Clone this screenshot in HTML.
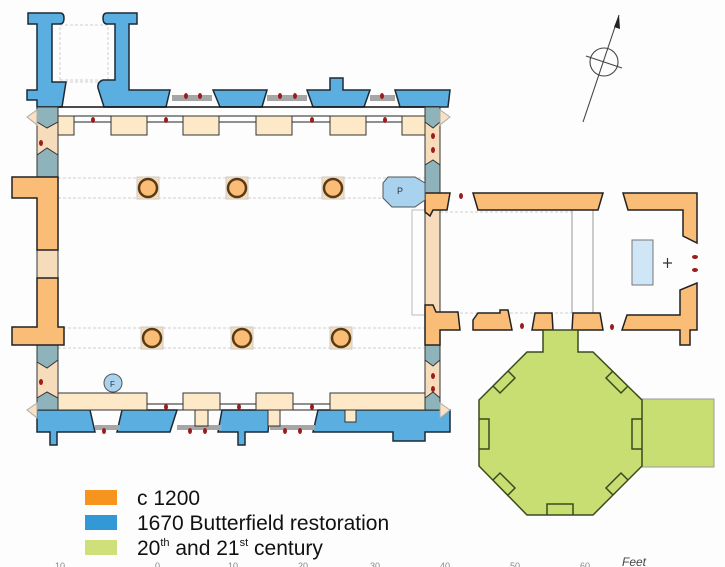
<!DOCTYPE html>
<html><head><meta charset="utf-8"><style>
html,body{margin:0;padding:0;background:#fff;}
svg{display:block;}
text{font-family:"Liberation Sans",sans-serif;}
</style></head><body>
<svg width="725" height="567" viewBox="0 0 725 567" xmlns="http://www.w3.org/2000/svg">
<rect width="725" height="567" fill="#fdfdfd"/>
<g stroke="#cfcfcf" stroke-width="1" fill="none" stroke-dasharray="3,2">
<rect x="60" y="25" width="48" height="57"/>
<line x1="60" y1="80" x2="108" y2="80"/>
<line x1="58" y1="178" x2="425" y2="178"/><line x1="58" y1="198" x2="425" y2="198"/>
<line x1="58" y1="328" x2="425" y2="328"/><line x1="58" y1="348" x2="425" y2="348"/>
<line x1="440" y1="212" x2="572" y2="212"/><line x1="440" y1="313" x2="572" y2="313"/>
</g>
<g stroke="#bbb" fill="none"><rect x="412" y="210" width="28" height="105"/>
<line x1="572" y1="210" x2="572" y2="313" stroke="#999"/><line x1="593" y1="210" x2="593" y2="313" stroke="#999"/></g>
<!-- tower blue -->
<g fill="#5aaee0" stroke="#1c2a35" stroke-width="1.5">
<path d="M28,13 H60 Q64,13 64,18 Q64,24 60,24 H52 V82 H66 L62,107 H37 V100 H27 V90 H37 V24 H28 Z"/>
<path d="M107,13 H137 V24 H129 V90 H170 L166,107 H104 L98,88 Q97,82 103,80 H115 V24 H107 Q103,24 103,18 Q103,13 107,13 Z"/>
<path d="M213,90 H267 L262,107 H220 Z"/>
<path d="M307,90 H330 V78 H343 V90 H370 L364,107 H313 Z"/>
<path d="M395,90 H440 L450,90 L448,107 H400 Z"/>
<!-- south -->
<path d="M37,410 H90 L95,432 H57 V445 H50 V432 H37 Z"/>
<path d="M122,410 H177 L170,432 H117 Z"/>
<path d="M222,410 H270 L268,432 H245 V445 H238 V432 H218 Z"/>
<path d="M318,410 H450 V432 H425 V441 H393 V432 H313 Z"/>
</g>
<line x1="37" y1="107" x2="440" y2="107" stroke="#111" stroke-width="1.5"/>
<line x1="58" y1="116" x2="425" y2="116" stroke="#222" stroke-width="1"/>
<line x1="58" y1="122" x2="425" y2="122" stroke="#222" stroke-width="1"/>
<line x1="58" y1="410" x2="440" y2="410" stroke="#222" stroke-width="1"/>
<line x1="58" y1="404" x2="425" y2="404" stroke="#222" stroke-width="1"/>
<g fill="#a6a6a6"><rect x="172" y="95" width="40" height="6"/><rect x="267" y="95" width="40" height="6"/><rect x="370" y="95" width="25" height="6"/>
<rect x="95" y="425" width="25" height="5"/><rect x="177" y="425" width="45" height="5"/><rect x="270" y="425" width="45" height="5"/></g>
<!-- inner pale strips -->
<g fill="#fde8c8" stroke="#333" stroke-width="1">
<rect x="57" y="116" width="17" height="19"/><rect x="111" y="116" width="36" height="19"/><rect x="183" y="116" width="36" height="19"/>
<rect x="256" y="116" width="36" height="19"/><rect x="330" y="116" width="36" height="19"/><rect x="402" y="116" width="23" height="19"/>
<rect x="58" y="393" width="89" height="17"/><rect x="183" y="393" width="37" height="17"/><rect x="256" y="393" width="37" height="17"/><rect x="330" y="393" width="95" height="17"/>
<rect x="195" y="410" width="13" height="16"/><rect x="268" y="410" width="12" height="16"/><rect x="345" y="410" width="11" height="12"/>
</g>
<!-- west & east nave walls -->
<g stroke="#333" stroke-width="1">
<rect x="37" y="107" width="21" height="303" fill="#f6dcbb"/>
<rect x="425" y="107" width="15" height="303" fill="#f6dcbb"/>
<path d="M37,107 H58 V122 L47,128 L37,122 Z" fill="#8fb3bb"/>
<path d="M37,155 L47,148 L58,155 V177 H37 Z" fill="#8fb3bb"/>
<path d="M37,345 H58 V360 L47,368 L37,362 Z" fill="#8fb3bb"/>
<path d="M37,398 L47,392 L58,398 V410 H37 Z" fill="#8fb3bb"/>
<path d="M425,107 H440 V122 L433,128 L425,122 Z" fill="#8fb3bb"/>
<path d="M425,165 L433,160 L440,165 V193 H425 Z" fill="#8fb3bb"/>
<path d="M425,345 H440 V360 L433,366 L425,360 Z" fill="#8fb3bb"/>
<path d="M425,398 L433,392 L440,398 V410 H425 Z" fill="#8fb3bb"/>
</g>
<g fill="#f9e2c4" stroke="#aaa"><path d="M27,117 L37,110 V125 Z"/><path d="M450,117 L440,110 V125 Z"/><path d="M27,410 L37,403 V418 Z"/><path d="M450,410 L440,403 V418 Z"/></g>
<!-- orange -->
<g fill="#f9bd78" stroke="#222" stroke-width="1.5">
<path d="M12,177 H58 V250 H37 V198 H12 Z"/>
<path d="M37,278 H58 V327 H64 V345 H12 V327 H37 Z"/>
<path d="M425,193 H450 L447,210 H433 L430,216 L425,212 Z"/>
<path d="M425,305 H433 L436,312 H458 L460,330 H440 V345 H425 Z"/>
<path d="M473,193 H603 L598,210 H478 Z"/>
<path d="M623,193 H697 V243 L683,236 V210 H628 Z"/>
<path d="M473,320 L478,313 H500 V310 H508 L512,330 H473 Z"/>
<path d="M535,313 H552 L553,330 H532 Z"/>
<path d="M573,313 H600 L603,330 H572 Z"/>
<path d="M622,330 L627,315 H680 V290 L697,283 V330 H690 V345 H680 V330 Z"/>
</g>
<!-- columns -->
<g stroke="#5a3a10" stroke-width="2.5" fill="#f9bd78">
<rect x="137" y="177" width="22" height="22" fill="#f6dcbb" stroke="#ccc" stroke-width="1"/><circle cx="148" cy="188" r="9"/>
<rect x="226" y="177" width="22" height="22" fill="#f6dcbb" stroke="#ccc" stroke-width="1"/><circle cx="237" cy="188" r="9"/>
<rect x="322" y="177" width="22" height="22" fill="#f6dcbb" stroke="#ccc" stroke-width="1"/><circle cx="333" cy="188" r="9"/>
<rect x="141" y="327" width="22" height="22" fill="#f6dcbb" stroke="#ccc" stroke-width="1"/><circle cx="152" cy="338" r="9"/>
<rect x="231" y="327" width="22" height="22" fill="#f6dcbb" stroke="#ccc" stroke-width="1"/><circle cx="242" cy="338" r="9"/>
<rect x="330" y="327" width="22" height="22" fill="#f6dcbb" stroke="#ccc" stroke-width="1"/><circle cx="341" cy="338" r="9"/>
</g>
<!-- red dots -->
<g fill="#9b1c1c">
<ellipse cx="186" cy="96" rx="2" ry="3"/><ellipse cx="200" cy="96" rx="2" ry="3"/><ellipse cx="280" cy="96" rx="2" ry="3"/><ellipse cx="295" cy="96" rx="2" ry="3"/><ellipse cx="382" cy="96" rx="2" ry="3"/>
<ellipse cx="93" cy="120" rx="2" ry="3"/><ellipse cx="166" cy="120" rx="2" ry="3"/><ellipse cx="312" cy="120" rx="2" ry="3"/><ellipse cx="385" cy="120" rx="2" ry="3"/>
<ellipse cx="41" cy="143" rx="2" ry="3"/><ellipse cx="433" cy="136" rx="2" ry="3"/><ellipse cx="433" cy="150" rx="2" ry="3"/>
<ellipse cx="41" cy="382" rx="2" ry="3"/><ellipse cx="433" cy="376" rx="2" ry="3"/><ellipse cx="433" cy="389" rx="2" ry="3"/>
<ellipse cx="166" cy="407" rx="2" ry="3"/><ellipse cx="239" cy="407" rx="2" ry="3"/><ellipse cx="312" cy="407" rx="2" ry="3"/>
<ellipse cx="104" cy="431" rx="2" ry="3"/><ellipse cx="190" cy="431" rx="2" ry="3"/><ellipse cx="205" cy="431" rx="2" ry="3"/><ellipse cx="285" cy="431" rx="2" ry="3"/><ellipse cx="300" cy="431" rx="2" ry="3"/>
<ellipse cx="461" cy="196" rx="2" ry="3"/><ellipse cx="522" cy="326" rx="2" ry="3"/><ellipse cx="612" cy="327" rx="2" ry="3"/>
<ellipse cx="695" cy="257" rx="3" ry="2"/><ellipse cx="695" cy="270" rx="3" ry="2"/>
</g>
<!-- P and F -->
<path d="M388,177 H415 L425,183 V200 L415,207 H392 L383,198 V183 Z" fill="#a9d2ef" stroke="#555"/>
<text x="397" y="194" font-family="Liberation Serif,serif" font-size="9" fill="#333">P</text>
<circle cx="113" cy="383" r="9" fill="#a9d2ef" stroke="#555"/>
<text x="110" y="387" font-size="8" fill="#333">F</text>
<!-- altar -->
<rect x="632" y="240" width="21" height="45" fill="#cfe6f7" stroke="#777"/>
<path d="M663,263 H672 M667.5,258 V268" stroke="#333" stroke-width="1.2"/>
<!-- green -->
<g fill="#c9de72" stroke="#3a4a20" stroke-width="1.5">
<rect x="642" y="399" width="72" height="68" stroke="#999" stroke-width="1"/>
<path d="M543,330 H578 V352 H593 L642,400 V466 L593,515 H527 L479,466 V400 L527,352 H543 Z"/>
</g>
<g fill="none" stroke="#3a4a20" stroke-width="1.5">
<path d="M479,419 H489 V449 H479"/><path d="M642,419 H632 V449 H642"/>
<path d="M493,386 L500,393 L515,378 L508,371"/><path d="M628,386 L621,393 L606,378 L613,371"/>
<path d="M493,480 L500,473 L515,488 L508,495"/><path d="M628,480 L621,473 L606,488 L613,495"/>
<path d="M547,515 V504 H573 V515"/>
</g>
<!-- compass -->
<g stroke="#444" fill="none" stroke-width="1.1">
<line x1="583" y1="122" x2="619" y2="15"/>
<circle cx="604" cy="62" r="14"/>
<line x1="586" y1="56" x2="622" y2="68"/>
</g>
<path d="M619,15 L620,29 L614,27 Z" fill="#222"/>
<!-- legend -->
<rect x="85" y="490" width="32" height="15" fill="#f7941d"/>
<rect x="85" y="515" width="32" height="15" fill="#3399d6"/>
<rect x="85" y="540" width="32" height="15" fill="#cfe07a"/>
<g font-size="21" fill="#111">
<text x="137" y="505">c 1200</text>
<text x="137" y="530">1670 Butterfield restoration</text>
<text x="137" y="555">20<tspan font-size="11" dy="-9">th</tspan><tspan dy="9"> and 21</tspan><tspan font-size="11" dy="-9">st</tspan><tspan dy="9"> century</tspan></text>
</g>
<g font-size="9" fill="#888" font-family="Liberation Serif,serif">
<text x="55" y="569">10</text><text x="155" y="569">0</text><text x="228" y="569">10</text><text x="298" y="569">20</text><text x="370" y="569">30</text><text x="440" y="569">40</text><text x="510" y="569">50</text><text x="580" y="569">60</text>
<text x="622" y="566" font-style="italic" font-size="12" fill="#444">Feet</text>
</g>
</svg>
</body></html>
